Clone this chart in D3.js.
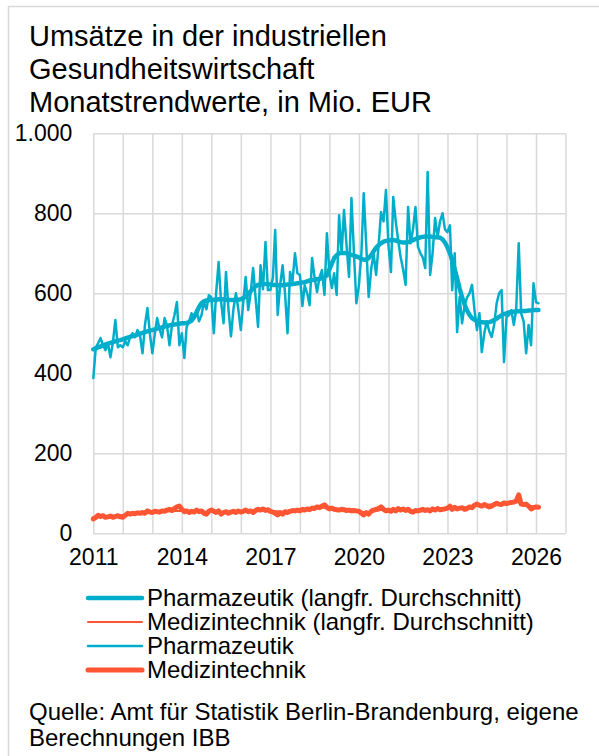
<!DOCTYPE html>
<html>
<head>
<meta charset="utf-8">
<script src="https://cdn.jsdelivr.net/npm/d3@7"></script>
<style>
  html, body { margin: 0; padding: 0; background: #fff; }
  svg { display: block; font-family: 'Liberation Sans', Arial, sans-serif; }
</style>
</head>
<body>
<div id="chart"></div>
<script>
// Monatswerte ab Januar 2011, Mio. EUR
const startDate = new Date(2011, 0, 1)

const pharma = [
  388, 465, 475, 488, 470, 458, 475, 440, 478, 533, 465, 470, // 2011
  465, 480, 470, 491, 500, 490, 508, 495, 450, 520, 563, 500, // 2012
  450, 500, 538, 510, 490, 538, 520, 470, 520, 545, 578, 470, // 2013
  500, 438, 516, 530, 550, 540, 558, 530, 545, 578, 560, 595, // 2014
  590, 500, 600, 678, 580, 525, 653, 560, 492, 560, 600, 560, // 2015
  508, 580, 641, 558, 600, 663, 590, 516, 670, 610, 728, 608, // 2016
  608, 640, 758, 546, 620, 670, 600, 500, 653, 630, 700, 650, // 2017
  646, 568, 620, 600, 570, 688, 640, 603, 640, 658, 596, 750, // 2018
  650, 613, 650, 596, 795, 700, 808, 720, 641, 838, 700, 575, // 2019
  620, 700, 850, 720, 591, 660, 700, 646, 720, 803, 780, 858, // 2020
  720, 653, 841, 780, 733, 690, 660, 621, 816, 725, 760, 816, // 2021
  716, 700, 690, 663, 903, 646, 700, 788, 740, 780, 800, 760, // 2022
  753, 770, 608, 700, 503, 591, 525, 570, 590, 600, 621, 560, // 2023
  508, 550, 453, 500, 530, 505, 491, 521, 575, 600, 608, 428, // 2024
  541, 545, 558, 521, 560, 725, 550, 530, 450, 521, 470, 625, // 2025
  578, 575 // 2026
]

const pharmaTrend = [
  460, 462, 465, 467, 470, 472, 474, 476, 478, 480, 482, 483,
  485, 487, 489, 491, 493, 495, 497, 499, 501, 503, 505, 507,
  508, 510, 512, 513, 515, 517, 518, 520, 521, 522, 523, 524,
  525, 525, 526, 528, 532, 540, 552, 565, 575, 580, 582, 583,
  583, 584, 584, 585, 585, 585, 584, 584, 583, 583, 583, 584,
  585, 588, 592, 598, 605, 612, 618, 621, 622, 623, 623, 623,
  622, 621, 621, 620, 620, 620, 621, 622, 622, 623, 624, 625,
  626, 627, 628, 630, 632, 633, 634, 635, 636, 638, 640, 645,
  660, 675, 688, 695, 700, 701, 701, 700, 698, 696, 694, 692,
  690, 686, 684, 684, 688, 695, 705, 714, 720, 725, 729, 731,
  732, 733, 733, 732, 730, 728, 727, 727, 728, 730, 733, 736,
  738, 740, 741, 742, 742, 742, 741, 740, 740, 739, 735, 727,
  715, 700, 682, 660, 637, 612, 590, 572, 557, 546, 538, 534,
  531, 529, 528, 527, 527, 528, 530, 533, 537, 541, 545, 548,
  550, 552, 553, 554, 555, 555, 556, 556, 556, 557, 557, 558,
  558, 558
]

const medizin = [
  36, 40, 45, 42, 44, 40, 41, 43, 40, 42, 44, 41,
  40, 45, 50, 48, 50, 49, 51, 50, 52, 50, 56, 53,
  52, 55, 54, 53, 56, 55, 58, 60, 57, 62, 66, 68,
  60, 54, 56, 52, 55, 53, 58, 54, 56, 50, 48, 55,
  58, 55, 52, 56, 48, 52, 54, 50, 53, 55, 52, 56,
  53, 55, 58, 54, 56, 52, 57, 60, 58, 61, 57, 59,
  55, 53, 50, 46, 52, 48, 54, 52, 55, 57, 56, 58,
  56, 60, 58, 61, 59, 63, 62, 66, 64, 68, 71, 65,
  61, 63, 60, 59, 58, 60, 59, 57, 58, 56, 57, 56,
  55, 50, 46, 52, 48, 55, 58, 60, 62, 66, 60, 56,
  58, 55, 60, 56, 62, 58, 61, 57, 60, 55, 53, 57,
  56, 58, 60, 57, 59, 56, 61, 58, 62, 59, 60, 61,
  63, 68, 60, 65, 61, 63, 64, 60, 62, 66, 64, 70,
  73, 70, 68, 72, 69, 66, 68, 72, 75, 73, 72, 76,
  74, 76, 77, 78, 81, 96, 73, 72, 73, 68, 61, 64,
  66, 65
]

const medizinTrend = [
  40, 40, 41, 41, 42, 42, 43, 43, 44, 44, 45, 45,
  46, 46, 47, 47, 48, 48, 49, 49, 50, 50, 51, 51,
  52, 52, 53, 53, 54, 54, 55, 55, 55, 56, 56, 56,
  56, 56, 56, 55, 55, 55, 55, 54, 54, 54, 54, 54,
  54, 54, 54, 54, 53, 53, 53, 53, 54, 54, 54, 54,
  55, 55, 55, 56, 56, 56, 57, 57, 57, 57, 57, 57,
  56, 56, 55, 55, 54, 54, 54, 54, 55, 55, 56, 57,
  58, 58, 59, 60, 61, 62, 62, 63, 63, 64, 64, 64,
  63, 62, 61, 60, 60, 59, 59, 58, 58, 57, 57, 56,
  55, 54, 53, 53, 53, 54, 55, 56, 57, 58, 58, 58,
  58, 58, 58, 58, 58, 58, 58, 58, 58, 57, 57, 57,
  57, 58, 58, 58, 59, 59, 59, 60, 60, 61, 61, 62,
  62, 63, 63, 63, 64, 64, 64, 65, 65, 66, 67, 68,
  69, 70, 70, 71, 71, 72, 72, 73, 73, 74, 74, 75,
  75, 76, 77, 78, 78, 77, 76, 74, 72, 70, 68, 67,
  66, 66
]

const yTicks = [0, 200, 400, 600, 800, 1000]
const xLabelYears = [2011, 2014, 2017, 2020, 2023, 2026]
const titleLines = ['Umsätze in der industriellen', 'Gesundheitswirtschaft', 'Monatstrendwerte, in Mio. EUR']
const sourceLines = ['Quelle: Amt für Statistik Berlin-Brandenburg, eigene', 'Berechnungen IBB']

const blue = '#00AECB'
const orange = '#FF5533'

const width = 599
const height = 756
const margin = { left: 93.3, right: 565.5, top: 133.3, bottom: 533.3 }

const svg = d3.select('#chart')
  .append('svg')
  .attr('width', width)
  .attr('height', height)

// Rahmen (nur links und oben sichtbar)
svg.append('path')
  .attr('d', `M8.5,${height} V6.5 H${width}`)
  .attr('fill', 'none')
  .attr('stroke', '#d9d9d9')
  .attr('stroke-width', 1.5)

// Titel
svg.append('g').selectAll('text')
  .data(titleLines)
  .enter()
  .append('text')
  .attr('x', 29)
  .attr('y', (d, i) => 45.5 + i * 33)
  .attr('font-size', '29px')
  .attr('fill', '#000')
  .text(d => d)

const x = d3.scaleTime()
  .domain([startDate, new Date(2027, 0, 1)])
  .range([margin.left, margin.right])

const y = d3.scaleLinear()
  .domain([0, 1000])
  .range([margin.bottom, margin.top])

const de = d3.formatLocale({ decimal: ',', thousands: '.', grouping: [3], currency: ['', ' €'] })

// Gitternetz senkrecht: jedes Jahr
const yearTicks = d3.timeYear.range(startDate, new Date(2027, 0, 2))
svg.append('g')
  .attr('transform', `translate(0,${margin.bottom})`)
  .call(d3.axisBottom(x)
    .tickValues(yearTicks)
    .tickSize(-(margin.bottom - margin.top))
    .tickFormat(''))
  .call(g => g.select('.domain').remove())
  .call(g => g.selectAll('line').attr('stroke', '#d9d9d9').attr('stroke-width', 1.5))

// Gitternetz waagerecht + Beschriftung
svg.append('g')
  .attr('transform', `translate(${margin.left},0)`)
  .call(d3.axisLeft(y)
    .tickValues(yTicks)
    .tickSize(-(margin.right - margin.left))
    .tickPadding(21)
    .tickFormat(de.format(',')))
  .call(g => g.select('.domain').remove())
  .call(g => g.selectAll('line').attr('stroke', '#d9d9d9').attr('stroke-width', 1.5))
  .call(g => g.selectAll('text')
    .attr('font-size', '23px')
    .attr('fill', '#000')
    .attr('font-family', "'Liberation Sans', Arial, sans-serif"))

// x-Beschriftung alle 3 Jahre
svg.append('g')
  .attr('transform', `translate(0,${margin.bottom})`)
  .call(d3.axisBottom(x)
    .tickValues(xLabelYears.map(yr => new Date(yr, 0, 1)))
    .tickSize(0)
    .tickPadding(15)
    .tickFormat(d3.timeFormat('%Y')))
  .call(g => g.select('.domain').remove())
  .call(g => g.selectAll('text')
    .attr('font-size', '23px')
    .attr('fill', '#000')
    .attr('font-family', "'Liberation Sans', Arial, sans-serif"))

const dateAt = i => d3.timeMonth.offset(startDate, i)
const line = d3.line()
  .x((d, i) => x(dateAt(i)))
  .y(d => y(d))
  .curve(d3.curveLinear)

const series = [
  { name: 'Pharmazeutik (langfr. Durchschnitt)', values: pharmaTrend, color: blue, w: 4.5 },
  { name: 'Medizintechnik (langfr. Durchschnitt)', values: medizinTrend, color: orange, w: 2 },
  { name: 'Pharmazeutik', values: pharma, color: blue, w: 2.5 },
  { name: 'Medizintechnik', values: medizin, color: orange, w: 5 }
]

svg.append('g').selectAll('path')
  .data(series)
  .enter()
  .append('path')
  .attr('d', d => line(d.values))
  .attr('fill', 'none')
  .attr('stroke', d => d.color)
  .attr('stroke-width', d => d.w)
  .attr('stroke-linejoin', 'round')
  .attr('stroke-linecap', 'round')

// Legende
const legend = svg.append('g').selectAll('g')
  .data(series)
  .enter()
  .append('g')
  .attr('transform', (d, i) => `translate(0,${598 + i * 24})`)

legend.append('line')
  .attr('x1', 88)
  .attr('x2', 142)
  .attr('stroke', d => d.color)
  .attr('stroke-width', d => d.w)
  .attr('stroke-linecap', 'round')

legend.append('text')
  .attr('x', 147)
  .attr('dy', '0.35em')
  .attr('font-size', '24px')
  .attr('fill', '#000')
  .text(d => d.name)

// Quelle
svg.append('g').selectAll('text')
  .data(sourceLines)
  .enter()
  .append('text')
  .attr('x', 29)
  .attr('y', (d, i) => 720 + i * 26)
  .attr('font-size', '24px')
  .attr('fill', '#000')
  .text(d => d)
</script>
</body>
</html>
